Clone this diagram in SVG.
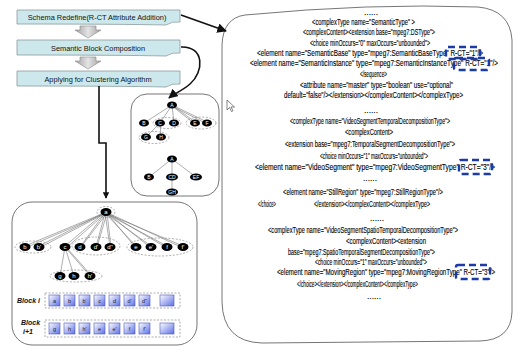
<svg xmlns="http://www.w3.org/2000/svg" width="516" height="347" viewBox="0 0 516 347">
<defs>
<style>
.box{fill:#cde8ec;stroke:#8a9a9c;stroke-width:0.8}
.btxt{font-family:"Liberation Sans",Arial,sans-serif;font-size:7.4px;fill:#111;text-anchor:middle}
.garrow{fill:url(#gg);stroke:#8a8a8a;stroke-width:0.6}
.panel{fill:#fff;stroke:#666;stroke-width:0.9}
.nd{fill:#000}
.nt{font-family:"Liberation Sans",Arial,sans-serif;font-size:5px;fill:#fff;text-anchor:middle}
.nt2{font-family:"Liberation Sans",Arial,sans-serif;font-size:6px;fill:#fff;text-anchor:middle}
.dash{fill:none;stroke:#777;stroke-width:0.6;stroke-dasharray:2 1.5}
.edge{stroke:#777;stroke-width:0.6;fill:none}
.code{font-family:"Liberation Sans",Arial,sans-serif;font-size:8.5px;fill:#000;stroke:#000;stroke-width:0.12}
.rct{fill:none;stroke:#1c3aa8;stroke-width:2.4;stroke-dasharray:7 4;}
.sq{fill:url(#bg);stroke:#4a58b8;stroke-width:0.6}
.st{font-family:"Liberation Sans",Arial,sans-serif;font-size:5.5px;fill:#223;text-anchor:middle}
.blk{font-family:"Liberation Sans",Arial,sans-serif;font-size:7px;font-style:italic;font-weight:bold;fill:#111}
.conn{stroke:#111;stroke-width:1.6;fill:none}
</style>
<linearGradient id="gg" x1="0" y1="0" x2="1" y2="0">
<stop offset="0" stop-color="#a0a0a0"/><stop offset="0.5" stop-color="#e4e4e4"/><stop offset="1" stop-color="#a0a0a0"/>
</linearGradient>
<linearGradient id="bg" x1="0" y1="0" x2="1" y2="1">
<stop offset="0" stop-color="#ffffff"/><stop offset="1" stop-color="#5b6ee6"/>
</linearGradient>
<marker id="ah" viewBox="0 0 10 10" refX="9" refY="5" markerWidth="6" markerHeight="6" orient="auto">
<path d="M0,0 L10,5 L0,10 Z" fill="#111"/>
</marker>
<marker id="ah2" viewBox="0 0 10 10" refX="9" refY="5" markerWidth="4" markerHeight="4" orient="auto">
<path d="M0,0 L10,5 L0,10 Z" fill="#111"/>
</marker>
</defs>

<!-- right panel -->
<g id="schema-panel">
<path class="panel" d="M245,15 Q370,3 478,7 Q510,10 512,40 L512,312 Q511,340 480,341 L262,343 Q223,342 222,302 L222,45 Q223,18 245,15 Z"/>
<text class="code" transform="translate(364,15) scale(0.75,1)" textLength="18.7" lengthAdjust="spacingAndGlyphs">......</text>
<text class="code" transform="translate(312,25) scale(0.75,1)" textLength="137.3" lengthAdjust="spacingAndGlyphs">&lt;complexType name="SemanticType" &gt;</text>
<text class="code" transform="translate(303,35) scale(0.75,1)" textLength="176" lengthAdjust="spacingAndGlyphs">&lt;complexContent&gt;&lt;extension base="mpeg7:DSType"&gt;</text>
<text class="code" transform="translate(310,46) scale(0.75,1)" textLength="160" lengthAdjust="spacingAndGlyphs">&lt;choice minOccurs="0" maxOccurs="unbounded"&gt;</text>
<text class="code" transform="translate(257,56) scale(0.75,1)" textLength="301.3" lengthAdjust="spacingAndGlyphs">&lt;element name="SemanticBase" type="mpeg7:SemanticBaseType" R-CT="1"/&gt;</text>
<text class="code" transform="translate(250,66) scale(0.75,1)" textLength="330.7" lengthAdjust="spacingAndGlyphs">&lt;element name="SemanticInstance" type="mpeg7:SemanticInstanceType" R-CT="1"/&gt;</text>
<text class="code" transform="translate(360,77) scale(0.75,1)" textLength="36" lengthAdjust="spacingAndGlyphs">&lt;/sequence&gt;</text>
<text class="code" transform="translate(300,88) scale(0.75,1)" textLength="204" lengthAdjust="spacingAndGlyphs">&lt;attribute name="master" type="boolean" use="optional"</text>
<text class="code" transform="translate(284,98) scale(0.75,1)" textLength="238.7" lengthAdjust="spacingAndGlyphs">default="false"/&gt;&lt;/extension&gt;&lt;/complexContent&gt;&lt;/complexType&gt;</text>
<text class="code" transform="translate(364,113) scale(0.75,1)" textLength="18.7" lengthAdjust="spacingAndGlyphs">......</text>
<text class="code" transform="translate(290,124) scale(0.75,1)" textLength="213.3" lengthAdjust="spacingAndGlyphs">&lt;complexType name="VideoSegmentTemporalDecompositionType"&gt;</text>
<text class="code" transform="translate(345,135) scale(0.75,1)" textLength="64" lengthAdjust="spacingAndGlyphs">&lt;complexContent&gt;</text>
<text class="code" transform="translate(285,147) scale(0.75,1)" textLength="226.7" lengthAdjust="spacingAndGlyphs">&lt;extension base="mpeg7:TemporalSegmentDecompositionType"&gt;</text>
<text class="code" transform="translate(320,159) scale(0.75,1)" textLength="144" lengthAdjust="spacingAndGlyphs">&lt;choice minOccurs="1" maxOccurs="unbounded"&gt;</text>
<text class="code" transform="translate(255,170) scale(0.75,1)" textLength="320" lengthAdjust="spacingAndGlyphs">&lt;element name="VideoSegment" type="mpeg7:VideoSegmentType" R-CT="3"/&gt;</text>
<text class="code" transform="translate(363,181) scale(0.75,1)" textLength="18.7" lengthAdjust="spacingAndGlyphs">......</text>
<text class="code" transform="translate(283,195) scale(0.75,1)" textLength="213.3" lengthAdjust="spacingAndGlyphs">&lt;element name="StillRegion" type="mpeg7:StillRegionType"/&gt;</text>
<text class="code" transform="translate(258,207) scale(0.75,1)" textLength="24" lengthAdjust="spacingAndGlyphs">&lt;/choice&gt;</text>
<text class="code" transform="translate(314,207) scale(0.75,1)" textLength="154.7" lengthAdjust="spacingAndGlyphs">&lt;/extension&gt;&lt;/complexContent&gt;&lt;/complexType&gt;</text>
<text class="code" transform="translate(370,221) scale(0.75,1)" textLength="18.7" lengthAdjust="spacingAndGlyphs">......</text>
<text class="code" transform="translate(268,233) scale(0.75,1)" textLength="253.3" lengthAdjust="spacingAndGlyphs">&lt;complexType name="VideoSegmentSpatioTemporalDecompositionType"&gt;</text>
<text class="code" transform="translate(346,244) scale(0.75,1)" textLength="106.7" lengthAdjust="spacingAndGlyphs">&lt;complexContent&gt;&lt;extension</text>
<text class="code" transform="translate(288,255) scale(0.75,1)" textLength="196" lengthAdjust="spacingAndGlyphs">base="mpeg7:SpatioTemporalSegmentDecompositionType"&gt;</text>
<text class="code" transform="translate(315,265) scale(0.75,1)" textLength="149.3" lengthAdjust="spacingAndGlyphs">&lt;choice minOccurs="1" maxOccurs="unbounded"&gt;</text>
<text class="code" transform="translate(277,275) scale(0.75,1)" textLength="290.7" lengthAdjust="spacingAndGlyphs">&lt;element name="MovingRegion" type="mpeg7:MovingRegionType" R-CT="3"/&gt;</text>
<text class="code" transform="translate(297,287) scale(0.75,1)" textLength="161.3" lengthAdjust="spacingAndGlyphs">&lt;/choice&gt;&lt;/extension&gt;&lt;/complexContent&gt;&lt;/complexType&gt;</text>
<text class="code" transform="translate(367,299) scale(0.75,1)" textLength="18.7" lengthAdjust="spacingAndGlyphs">......</text>
<rect class="rct" x="446" y="47" width="34" height="12" rx="2"/>
<rect class="rct" x="454" y="58" width="35" height="12" rx="2"/>
<rect class="rct" x="459" y="160" width="33" height="14" rx="2"/>
<rect class="rct" x="456" y="265" width="34" height="14" rx="2"/>
</g>

<!-- process boxes -->
<g id="box-schema">
<path class="box" d="M17,10 H180 V22 Q172,21 166,25 Q120,24 17,24 Z"/>
<text class="btxt" x="97" y="20">Schema Redefine(R-CT Attribute Addition)</text>
</g>
<g id="arrow-1">
<path class="garrow" d="M80,26 H96 V30 H101 L88,38 L75,30 H80 Z"/>
</g>
<g id="box-semantic">
<path class="box" d="M17,40 H180 V53 Q172,52 166,56 Q120,55 17,55 Z"/>
<text class="btxt" x="98" y="50.5">Semantic Block Composition</text>
</g>
<g id="arrow-2">
<path class="garrow" d="M80,57 H96 V61 H101 L88,69 L75,61 H80 Z"/>
</g>
<g id="box-cluster">
<path class="box" d="M17,71 H180 V84 Q172,83 166,87 Q120,86 17,86 Z"/>
<text class="btxt" x="98" y="81.5">Applying for Clustering Algorithm</text>
</g>

<!-- small tree panel -->
<g id="tree-panel">
<rect class="panel" x="131" y="94" width="88" height="102" rx="16"/>
<g class="edge">
<line x1="172" y1="105" x2="144" y2="123"/><line x1="172" y1="105" x2="160" y2="123"/>
<line x1="172" y1="105" x2="174" y2="123"/><line x1="172" y1="105" x2="195" y2="122"/>
<line x1="172" y1="106" x2="195" y2="124"/><line x1="172" y1="105" x2="207" y2="122"/>
<line x1="172" y1="106" x2="207" y2="124"/>
<line x1="160" y1="123" x2="146" y2="137"/><line x1="160" y1="123" x2="161" y2="137"/>
<line x1="172" y1="159" x2="149" y2="177"/><line x1="172" y1="159" x2="172" y2="177"/>
<line x1="172" y1="159" x2="196" y2="177"/><line x1="172" y1="177" x2="172" y2="192"/>
</g>
<ellipse class="dash" cx="167" cy="123" rx="14" ry="5.5"/>
<ellipse class="dash" cx="201" cy="123" rx="15" ry="6"/>
<ellipse class="dash" cx="154" cy="137.5" rx="15" ry="6"/>
<g><ellipse class="nd" cx="172" cy="105" rx="5" ry="3.6"/><text class="nt" x="172" y="106.8">A</text></g>
<g><ellipse class="nd" cx="144" cy="123" rx="5" ry="3.6"/><text class="nt" x="144" y="124.8">B</text></g>
<g><ellipse class="nd" cx="160" cy="123" rx="5" ry="3.6"/><text class="nt" x="160" y="124.8">C</text></g>
<g><ellipse class="nd" cx="174" cy="123" rx="5" ry="3.6"/><text class="nt" x="174" y="124.8">D</text></g>
<g><ellipse class="nd" cx="195" cy="123" rx="5" ry="3.6"/><text class="nt" x="195" y="124.8">E</text></g>
<g><ellipse class="nd" cx="207" cy="123" rx="5" ry="3.6"/><text class="nt" x="207" y="124.8">F</text></g>
<g><ellipse class="nd" cx="146" cy="137" rx="5" ry="3.6"/><text class="nt" x="146" y="138.8">G</text></g>
<g><ellipse class="nd" cx="161" cy="137" rx="5" ry="3.6"/><text class="nt" x="161" y="138.8">H</text></g>
<g><ellipse class="nd" cx="172" cy="159" rx="5" ry="3.6"/><text class="nt" x="172" y="160.8">A</text></g>
<g><ellipse class="nd" cx="149" cy="177" rx="5" ry="3.6"/><text class="nt" x="149" y="178.8">B</text></g>
<g><ellipse class="nd" cx="172" cy="177" rx="6" ry="3.6"/><text class="nt" x="172" y="178.8">CD</text></g>
<g><ellipse class="nd" cx="196" cy="177" rx="6" ry="3.6"/><text class="nt" x="196" y="178.8">EF</text></g>
<g><ellipse class="nd" cx="172" cy="192" rx="6" ry="3.6"/><text class="nt" x="172" y="193.8">GH</text></g>
</g>

<!-- bottom-left block panel -->
<g id="block-panel">
<rect class="panel" x="12" y="202" width="185" height="143" rx="20"/>
<g class="edge">
<line x1="104" y1="213" x2="25" y2="246"/><line x1="106" y1="213" x2="25" y2="248"/>
<line x1="104" y1="213" x2="39" y2="246"/><line x1="106" y1="213" x2="39" y2="248"/>
<line x1="104" y1="213" x2="65" y2="246"/><line x1="106" y1="213" x2="66" y2="248"/>
<line x1="105" y1="213" x2="80" y2="247"/><line x1="107" y1="213" x2="81" y2="247"/>
<line x1="105" y1="213" x2="96" y2="247"/><line x1="107" y1="213" x2="97" y2="247"/>
<line x1="105" y1="213" x2="110" y2="247"/><line x1="107" y1="213" x2="111" y2="247"/>
<line x1="105" y1="213" x2="136" y2="246"/><line x1="106" y1="212" x2="136" y2="248"/>
<line x1="105" y1="213" x2="151" y2="246"/><line x1="106" y1="212" x2="151" y2="248"/>
<line x1="105" y1="213" x2="167" y2="246"/><line x1="106" y1="212" x2="167" y2="248"/>
<line x1="105" y1="213" x2="183" y2="246"/><line x1="106" y1="212" x2="183" y2="248"/>
<line x1="65" y1="247" x2="60" y2="276"/><line x1="65" y1="247" x2="74" y2="276"/>
<line x1="65" y1="247" x2="90" y2="276"/><line x1="66" y1="247" x2="91" y2="275"/>
</g>
<ellipse class="dash" cx="106" cy="212" rx="9" ry="5.5"/>
<ellipse class="dash" cx="33" cy="247" rx="18" ry="6"/>
<ellipse class="dash" cx="96" cy="246" rx="24" ry="9"/>
<ellipse class="dash" cx="160" cy="247" rx="33" ry="9"/>
<ellipse class="dash" cx="76" cy="276" rx="26" ry="6"/>
<g><ellipse class="nd" cx="106" cy="212" rx="5.5" ry="4"/><text class="nt2" x="106" y="214">a</text></g>
<g><ellipse class="nd" cx="25" cy="247" rx="5.5" ry="4"/><text class="nt2" x="25" y="249">b</text></g>
<g><ellipse class="nd" cx="39" cy="247" rx="5.5" ry="4"/><text class="nt2" x="39" y="249">b'</text></g>
<g><ellipse class="nd" cx="65" cy="247" rx="5.5" ry="4"/><text class="nt2" x="65" y="249">c</text></g>
<g><ellipse class="nd" cx="80" cy="247" rx="5.5" ry="4"/><text class="nt2" x="80" y="249">d</text></g>
<g><ellipse class="nd" cx="96" cy="247" rx="5.5" ry="4"/><text class="nt2" x="96" y="249">d'</text></g>
<g><ellipse class="nd" cx="110" cy="247" rx="5.5" ry="4"/><text class="nt2" x="110" y="249">d''</text></g>
<g><ellipse class="nd" cx="136" cy="247" rx="5.5" ry="4"/><text class="nt2" x="136" y="249">e</text></g>
<g><ellipse class="nd" cx="151" cy="247" rx="5.5" ry="4"/><text class="nt2" x="151" y="249">e'</text></g>
<g><ellipse class="nd" cx="167" cy="247" rx="5.5" ry="4"/><text class="nt2" x="167" y="249">f</text></g>
<g><ellipse class="nd" cx="183" cy="247" rx="5.5" ry="4"/><text class="nt2" x="183" y="249">f'</text></g>
<g><ellipse class="nd" cx="60" cy="276" rx="5.5" ry="4"/><text class="nt2" x="60" y="278">g</text></g>
<g><ellipse class="nd" cx="74" cy="276" rx="5.5" ry="4"/><text class="nt2" x="74" y="278">h</text></g>
<g><ellipse class="nd" cx="90" cy="276" rx="5.5" ry="4"/><text class="nt2" x="90" y="278">h'</text></g>

<text class="blk" x="17" y="302.5">Block i</text>
<rect class="dash" x="45" y="293" width="135" height="15"/>
<g>
<rect class="sq" x="49" y="295" width="11" height="11"/><text class="st" x="54.5" y="302.5">a</text>
<rect class="sq" x="64" y="295" width="11" height="11"/><text class="st" x="69.5" y="302.5">b</text>
<rect class="sq" x="79" y="295" width="11" height="11"/><text class="st" x="84.5" y="302.5">b'</text>
<rect class="sq" x="94" y="295" width="11" height="11"/><text class="st" x="99.5" y="302.5">c</text>
<rect class="sq" x="109" y="295" width="11" height="11"/><text class="st" x="114.5" y="302.5">d</text>
<rect class="sq" x="124" y="295" width="11" height="11"/><text class="st" x="129.5" y="302.5">d'</text>
<rect class="sq" x="139" y="295" width="11" height="11"/><text class="st" x="144.5" y="302.5">d''</text>
<rect class="sq" x="160" y="295" width="14" height="11"/>
</g>
<text class="blk" x="21" y="325">Block</text>
<text class="blk" x="23" y="334">i+1</text>
<rect class="dash" x="45" y="320" width="135" height="17"/>
<g>
<rect class="sq" x="49" y="323" width="11" height="11"/><text class="st" x="54.5" y="330.5">g</text>
<rect class="sq" x="64" y="323" width="11" height="11"/><text class="st" x="69.5" y="330.5">h</text>
<rect class="sq" x="79" y="323" width="11" height="11"/><text class="st" x="84.5" y="330.5">h'</text>
<rect class="sq" x="94" y="323" width="11" height="11"/><text class="st" x="99.5" y="330.5">e</text>
<rect class="sq" x="109" y="323" width="11" height="11"/><text class="st" x="114.5" y="330.5">e'</text>
<rect class="sq" x="124" y="323" width="11" height="11"/><text class="st" x="129.5" y="330.5">f</text>
<rect class="sq" x="139" y="323" width="11" height="11"/><text class="st" x="144.5" y="330.5">f'</text>
<rect class="sq" x="160" y="323" width="14" height="11"/>
</g>
</g>

<!-- cursor -->
<path d="M227,100 L227,110 L229.5,107.5 L231.5,111.5 L233,110.8 L231,107 L234.5,107 Z" fill="#fff" stroke="#333" stroke-width="0.6"/>

<!-- connectors -->
<g id="connectors">
<path class="conn" d="M181,15 L226,31" marker-end="url(#ah)" stroke-width="1.4"/>
<path class="conn" d="M181,47 C205,46 204,72 190,84 C182,91 175,93 169,98" marker-end="url(#ah)" stroke-width="1.3"/>
<path class="conn" d="M99,86 V143 H106 V198" marker-end="url(#ah2)" stroke-width="2"/>
</g>
</svg>
